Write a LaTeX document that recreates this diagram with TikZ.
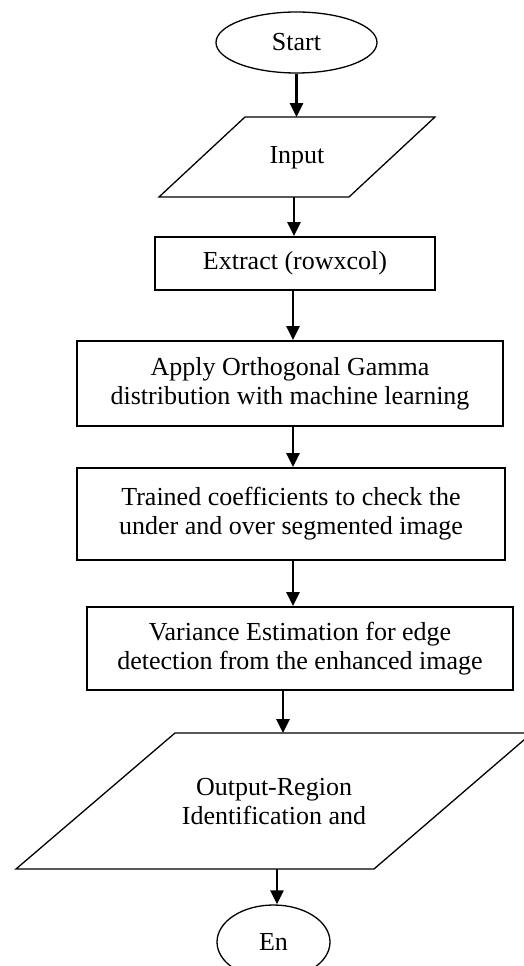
\documentclass[tikz,border=0pt]{standalone}
\usepackage{fontspec}
\setmainfont{Liberation Serif}
\usetikzlibrary{arrows.meta,shapes.geometric}
\begin{document}
\begin{tikzpicture}[x=1pt,y=-1pt,
  every node/.style={font=\fontsize{26}{29}\selectfont, align=center, inner sep=0pt},
  oval/.style={draw, line width=1.3pt, ellipse},
  procbox/.style={draw, line width=1.8pt, rectangle},
  iobox/.style={draw, line width=1.3pt, line join=miter},
  arr/.style={line width=2.6pt, -{Triangle[width=13pt,length=14pt]}}]
\useasboundingbox (0,0) rectangle (524,966);
\clip (0,0) rectangle (524,966);
% Start
\node[oval, minimum width=161pt, minimum height=61pt] (start) at (296.5,42.5) {Start};
% Input
\draw[iobox] (245,117) -- (435,117) -- (349,197) -- (159,197) -- cycle;
\coordinate (inTop) at (296.5,117);
\coordinate (inBot) at (294,197);
\node (input) at (297,158) {Input};
% Extract
\node[procbox, minimum width=280pt, minimum height=53pt] (extract) at (295,263.5) {Extract (rowxcol)};
% Apply
\node[procbox, minimum width=426pt, minimum height=85pt] (apply) at (290,383.5) {Apply Orthogonal Gamma\\distribution with machine learning};
% Trained
\node[procbox, minimum width=428pt, minimum height=92pt] (trained) at (291,514) {Trained coefficients to check the\\under and over segmented image};
% Variance
\node[procbox, minimum width=426pt, minimum height=83pt] (variance) at (300,648.5) {Variance Estimation for edge\\detection from the enhanced image};
% Output
\draw[iobox] (175,733) -- (532,733) -- (374,869) -- (16,869) -- cycle;
\coordinate (outTop) at (283,733);
\coordinate (outBot) at (277,869);
\node (output) at (274,802) {Output-Region\\Identification and};
% End
\node[oval, minimum width=113pt, minimum height=74pt] (end) at (273.5,942) {En};
% connectors
\draw[arr] (start.south) -- (inTop);
\draw[arr] (inBot) -- (inBot |- extract.north);
\draw[arr] ([xshift=-2pt]extract.south) -- ([xshift=-2pt]extract.south |- apply.north);
\draw[arr] ([xshift=3pt]apply.south) -- ([xshift=3pt]apply.south |- trained.north);
\draw[arr] ([xshift=2pt]trained.south) -- ([xshift=2pt]trained.south |- variance.north);
\draw[arr] (variance.south -| outTop) -- (outTop);
\draw[arr] (outBot) -- (outBot |- end.north);
\end{tikzpicture}
\end{document}
